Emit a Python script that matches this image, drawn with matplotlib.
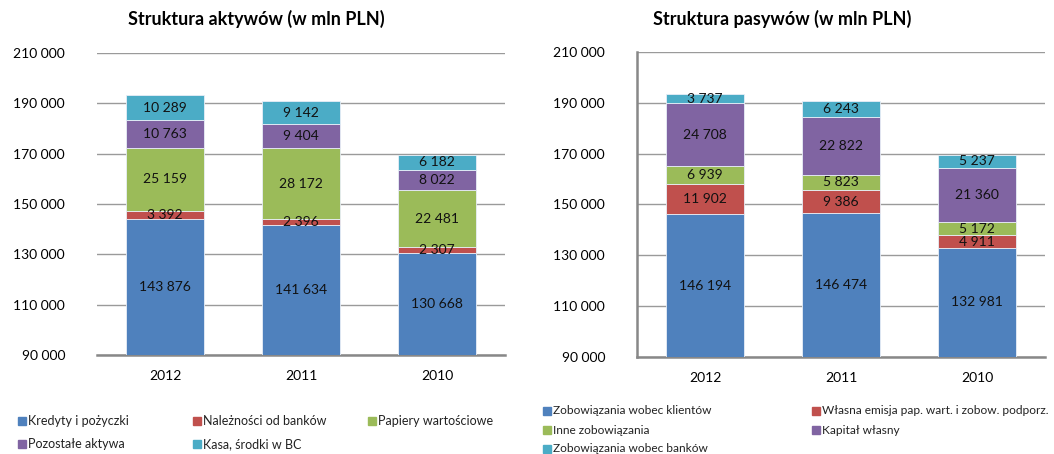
import matplotlib
matplotlib.use("Agg")
import matplotlib.pyplot as plt
from matplotlib.patches import Rectangle

plt.rcParams['font.family'] = ['Lato', 'DejaVu Sans']

years = ['2012', '2011', '2010']

# Struktura aktywów
kredyty = [143876, 141634, 130668]
naleznosci = [3392, 2396, 2307]
papiery = [25159, 28172, 22481]
pozostale = [10763, 9404, 8022]
kasa = [10289, 9142, 6182]
asset_names = ['Kredyty i pożyczki', 'Należności od banków', 'Papiery wartościowe',
               'Pozostałe aktywa', 'Kasa, środki w BC']

# Struktura pasywów
zob_klienci = [146194, 146474, 132981]
emisja = [11902, 9386, 4911]
inne_zob = [6939, 5823, 5172]
kapital = [24708, 22822, 21360]
zob_banki = [3737, 6243, 5237]
liab_names = ['Zobowiązania wobec klientów', 'Własna emisja pap. wart. i zobow. podporz.',
              'Inne zobowiązania', 'Kapitał własny', 'Zobowiązania wobec banków']

yticks = [90000, 110000, 130000, 150000, 170000, 190000, 210000]
colors = ['#4F81BD', '#C0504D', '#9BBB59', '#8064A2', '#4BACC6']
YMIN, YMAX = 90000, 210000


def fmt(v):
    return f"{v:,}".replace(",", " ")


def stacked(ax, series, left_spine):
    x = range(len(years))
    bottom = [0] * len(years)
    for vals, c in zip(series, colors):
        bars = ax.bar(x, vals, 0.57, bottom=bottom, color=c, edgecolor='#e8eef7',
                      linewidth=0.6, zorder=3)
        for b, v, b0 in zip(bars, vals, bottom):
            lo = max(b0, YMIN)  # label in the middle of the visible part
            ax.text(b.get_x() + b.get_width() / 2, (lo + b0 + v) / 2, fmt(v), ha='center',
                    va='center', fontsize=10, color='#111111', zorder=4)
        bottom = [b0 + v for b0, v in zip(bottom, vals)]
    ax.set_ylim(YMIN, YMAX)
    ax.set_xlim(-0.5, 2.5)
    ax.set_yticks(yticks)
    ax.set_yticklabels([fmt(t) for t in yticks], fontsize=10)
    ax.set_xticks(list(x))
    ax.set_xticklabels(years, fontsize=10)
    ax.tick_params(length=0, pad=23, axis='y')
    ax.tick_params(length=0, pad=11, axis='x')
    ax.grid(axis='y', color='#9a9a9a', linewidth=1, zorder=0)
    for s in ['top', 'right']:
        ax.spines[s].set_visible(False)
    ax.spines['bottom'].set_color('#888888')
    ax.spines['bottom'].set_linewidth(1.8)
    if left_spine:
        ax.spines['left'].set_color('#888888')
        ax.spines['left'].set_linewidth(1.8)
    else:
        ax.spines['left'].set_visible(False)


fig = plt.figure(figsize=(10.54, 4.54), dpi=100)
W, H = 1054, 454

ax1 = fig.add_axes([97 / W, 1 - 355 / H, 408 / W, 302 / H])
stacked(ax1, [kredyty, naleznosci, papiery, pozostale, kasa], False)
ax2 = fig.add_axes([637 / W, 1 - 357 / H, 408 / W, 305 / H])
stacked(ax2, [zob_klienci, emisja, inne_zob, kapital, zob_banki], True)

fig.text(256 / W, 1 - 19 / H, 'Struktura aktywów (w mln PLN)', ha='center', va='center',
         fontsize=13, fontweight='bold')
fig.text(782 / W, 1 - 19 / H, 'Struktura pasywów (w mln PLN)', ha='center', va='center',
         fontsize=13, fontweight='bold')


def legend_item(px, py, label, color, size):
    fig.patches.append(Rectangle((px / W, 1 - (py + 4) / H), 8 / W, 8 / H,
                                 transform=fig.transFigure, color=color, figure=fig))
    fig.text((px + 10) / W, 1 - py / H, label, ha='left', va='center', fontsize=size,
             color='#222222')


asset_pos = [(18, 421), (193, 421), (368, 421), (18, 444), (193, 444)]
for (px, py), name, c in zip(asset_pos, asset_names, colors):
    legend_item(px, py, name, c, 9)

liab_pos = [(543, 411), (812, 411), (543, 430), (812, 430), (543, 449)]
for (px, py), name, c in zip(liab_pos, liab_names, colors):
    legend_item(px, py, name, c, 8.6)

fig.savefig('out.png', dpi=100)
